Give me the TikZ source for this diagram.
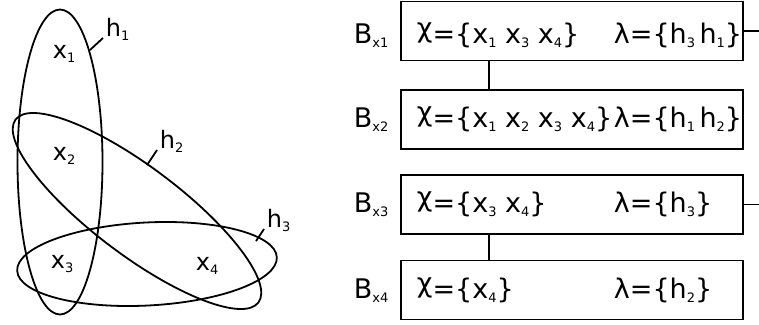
\documentclass[tikz,border=0pt]{standalone}
\usepackage{fontspec}
\setmainfont{DejaVu Sans}
\newcommand{\lowsub}[1]{\raisebox{-4pt}{\fontsize{13}{14}\selectfont #1}}
\newcommand{\chiup}{\raisebox{0.21em}{χ}}

\begin{document}
\begin{tikzpicture}[x=1pt, y=-1pt, line width=1.8pt,
  bag/.style={draw, rectangle, minimum width=342pt, minimum height=59pt, inner sep=0pt},
  txt/.style={anchor=base west, inner sep=0pt, font=\fontsize{27}{30}\selectfont},
  lbl/.style={anchor=base west, inner sep=0pt, font=\fontsize{24}{28}\selectfont}]
  \useasboundingbox (0,0) rectangle (759,324);

  % Hypergraph
  \draw (60,162) ellipse [x radius=42.5pt, y radius=152.5pt];
  \draw[rotate around={-37:(137,211)}] (137,211) ellipse [x radius=152pt, y radius=44pt];
  \draw[rotate around={3:(147,264)}] (147,264) ellipse [x radius=130pt, y radius=41.5pt];
  \node[lbl] (x1) at (52,58) {x\lowsub{1}};
  \node[lbl] (x2) at (52,160) {x\lowsub{2}};
  \node[lbl] (x3) at (50,268) {x\lowsub{3}};
  \node[lbl] (x4) at (195,270) {x\lowsub{4}};
  \node[lbl] (h1) at (105,36) {h\lowsub{1}};
  \node[lbl] (h2) at (159,148) {h\lowsub{2}};
  \node[lbl] (h3) at (266,227) {h\lowsub{3}};
  \coordinate (t1) at (90,50);
  \coordinate (t2) at (147,165);
  \coordinate (t3) at (256,241);
  \foreach \i in {1,2,3}
    \draw (t\i) -- ([shift={(-2pt,-2pt)}]h\i.base west);

  % Bags
  \node[bag] (b1) at (572,31) {};
  \node[bag] (b2) at (572,119.5) {};
  \node[bag] (b3) at (572,204.5) {};
  \node[bag] (b4) at (572,290) {};
  \foreach \i/\y in {1/43,2/127,3/212,4/298}
    \node[txt] (B\i) at (353,\y) {B\lowsub{x\i}};
  \node[txt] (c1) at (416,43) {\chiup=\{x\lowsub{1} x\lowsub{3} x\lowsub{4}\}};
  \node[txt] (l1) at (613,43) {λ=\{h\lowsub{3}\,h\lowsub{1}\}};
  \node[txt] (c2) at (416,127) {\chiup=\{x\lowsub{1} x\lowsub{2} x\lowsub{3} x\lowsub{4}\}};
  \node[txt] (l2) at (613,127) {λ=\{h\lowsub{1}\,h\lowsub{2}\}};
  \node[txt] (c3) at (416,212) {\chiup=\{x\lowsub{3} x\lowsub{4}\}};
  \node[txt] (l3) at (613,212) {λ=\{h\lowsub{3}\}};
  \node[txt] (c4) at (416,298) {\chiup=\{x\lowsub{4}\}};
  \node[txt] (l4) at (613,298) {λ=\{h\lowsub{2}\}};

  % Tree edges
  \draw ([xshift=89pt]b1.south west) -- ([xshift=89pt]b2.north west);
  \draw ([xshift=89pt]b3.south west) -- ([xshift=89pt]b4.north west);
  \coordinate (e1) at (759,31);
  \coordinate (e3) at (759,206);
  \draw (b1.east) -- (e1);
  \draw (b3.east) -- (b3.east -| e3);
\end{tikzpicture}
\end{document}
